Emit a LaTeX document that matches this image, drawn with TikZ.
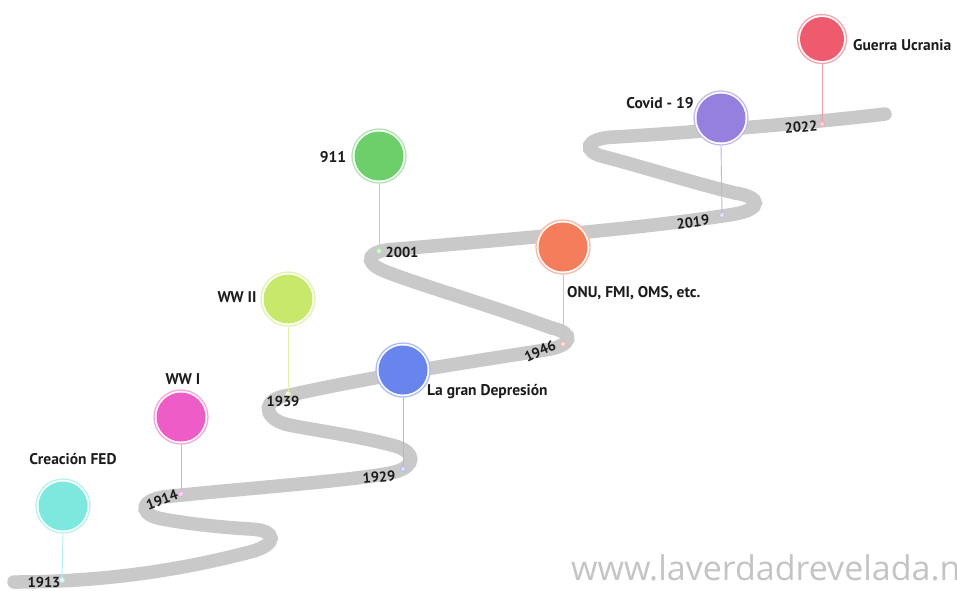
\documentclass[tikz,border=0pt]{standalone}
\usepackage{fontspec}
\setmainfont{PT Sans}
\newfontfamily\wmfont{Open Sans}
\definecolor{roadc}{HTML}{C9C9C9}
\definecolor{txt}{HTML}{1C1C1C}
\definecolor{cturq}{HTML}{7DE8DE}
\definecolor{cmag}{HTML}{EE5CC8}
\definecolor{cyel}{HTML}{C8E86B}
\definecolor{cblue}{HTML}{6785EC}
\definecolor{cgreen}{HTML}{6DCF6A}
\definecolor{corange}{HTML}{F47E5C}
\definecolor{cpurp}{HTML}{9580E0}
\definecolor{cred}{HTML}{EE5B6E}
\definecolor{wmc}{HTML}{C4C4C4}
\begin{document}
\begin{tikzpicture}[x=1pt,y=-1pt,
  road/.style={draw=roadc, line width=13.5pt, line cap=round},
  pinc/.style={circle, minimum size=54pt, inner sep=0pt, fill=white, draw=#1!55, line width=1.3pt,
    path picture={\fill[#1] (path picture bounding box.center) circle (24.5pt);}},
  stem/.style={draw=#1!60, line width=0.9pt},
  dotn/.style={circle, minimum size=5pt, inner sep=0pt, draw=#1!60, fill=#1!25, line width=0.6pt},
  lbl/.style={font=\bfseries\fontsize{15.5}{17}\selectfont, text=txt, inner sep=0pt},
  yr/.style={font=\bfseries\fontsize{14.5}{16}\selectfont, text=txt, inner sep=0pt},
]
\useasboundingbox (0,0) rectangle (957,590);
\fill[white] (0,0) rectangle (957,590);

% road
\draw[road] (14,582) .. controls (120,582) and (200,565) .. (250,552)
  .. controls (278,545) and (278,530) .. (250,529)
  .. controls (215,527) and (175,522) .. (158,518)
  .. controls (138,513) and (140,498) .. (172,496)
  .. controls (250,488) and (360,480) .. (395,472)
  .. controls (416,466) and (416,452) .. (395,446)
  .. controls (360,436) and (300,428) .. (285,424)
  .. controls (262,417) and (262,398) .. (290,395)
  .. controls (380,375) and (470,362) .. (545,350)
  .. controls (573,346) and (575,333) .. (552,328)
  .. controls (480,302) and (410,282) .. (382,270)
  .. controls (364,262) and (366,250) .. (398,249)
  .. controls (500,240) and (650,228) .. (735,214)
  .. controls (762,209) and (762,197) .. (735,193)
  .. controls (690,182) and (640,166) .. (605,157)
  .. controls (582,152) and (584,138) .. (615,137)
  .. controls (700,132) and (820,122) .. (885,114);

% year points
\node[dotn=cturq]   (d1913) at (62,580) {};
\node[dotn=cmag]    (d1914) at (181,494) {};
\node[dotn=cblue]   (d1929) at (403,469) {};
\node[dotn=cyel]    (d1939) at (288,394) {};
\node[dotn=corange] (d1946) at (563,344) {};
\node[dotn=cgreen]  (d2001) at (379,251) {};
\node[dotn=cpurp]   (d2019) at (722,215) {};
\node[dotn=cred]    (d2022) at (822,124) {};

% pins
\node[pinc=cturq]   (p1913) at (63,506) {};
\node[pinc=cmag]    (p1914) at (181,417) {};
\node[pinc=cyel]    (p1939) at (288,299) {};
\node[pinc=cblue]   (p1929) at (403,370) {};
\node[pinc=cgreen]  (p2001) at (379,156) {};
\node[pinc=corange] (p1946) at (563,247) {};
\node[pinc=cpurp]   (p2019) at (721,118) {};
\node[pinc=cred, minimum size=49pt, path picture={\fill[cred] (path picture bounding box.center) circle (22pt);}] (p2022) at (822,39) {};

% stems
\draw[stem=cturq]   (p1913.south) -- (d1913);
\draw[stem=cmag]    (p1914.south) -- (d1914);
\draw[stem=cyel]    (p1939.south) -- (d1939);
\draw[stem=cblue]   (p1929.south) -- (d1929);
\draw[stem=cgreen]  (p2001.south) -- (d2001);
\draw[stem=corange] (p1946.south) -- (d1946);
\draw[stem=cpurp]   (p2019.south) -- (d2019);
\draw[stem=cred]    (p2022.south) -- (d2022);

% event labels
\node[lbl] (t1913) at (73,459) {Creación FED};
\node[lbl] (t1914) at (183,379) {WW I};
\node[lbl] (t1939) at (237,297) {WW II};
\node[lbl, anchor=west] (t1929) at (427,392) {La gran Depresión};
\node[lbl] (t2001) at (333,157) {911};
\node[lbl, anchor=west] (t1946) at (567,293) {ONU, FMI, OMS, etc.};
\node[lbl] (t2019) at (660,103) {Covid - 19};
\node[lbl, anchor=west] (t2022) at (853,45) {Guerra Ucrania};

% year labels
\node[yr] (y1913) at (44,582) {1913};
\node[yr, rotate=20] (y1914) at (162,500) {1914};
\node[yr] (y1939) at (283,401) {1939};
\node[yr, rotate=5] (y1929) at (379,477) {1929};
\node[yr] (y2001) at (402,252) {2001};
\node[yr, rotate=25] (y1946) at (540,351) {1946};
\node[yr, rotate=8] (y2019) at (693,222) {2019};
\node[yr, rotate=5] (y2022) at (801,127) {2022};

% watermark
\begin{scope}
\clip (0,0) rectangle (957,590);
\node[font=\wmfont\fontsize{34}{38}\selectfont, text=wmc, anchor=base west, inner sep=0pt] (wm) at (571,580) {www.laverdadrevelada.n};
\end{scope}
\end{tikzpicture}
\end{document}
